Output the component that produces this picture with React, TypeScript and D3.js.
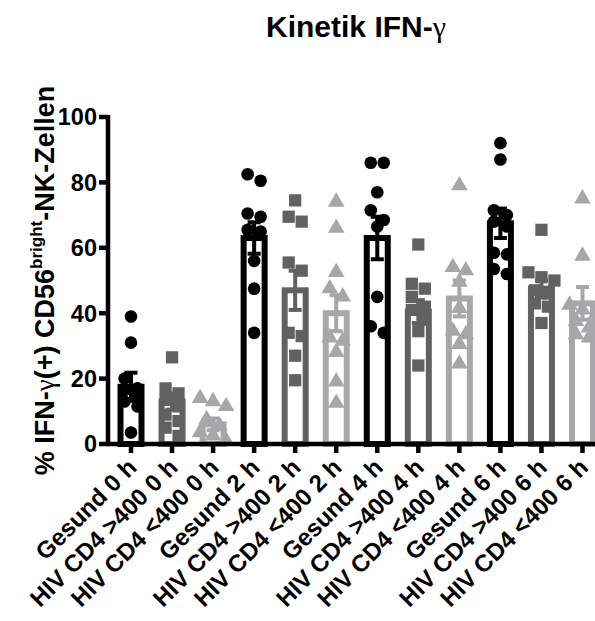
import React from 'react';
import * as d3 from 'd3';

const width = 595;
const height = 621;

const categories = [
  'Gesund 0 h', 'HIV CD4 >400 0 h', 'HIV CD4 <400 0 h',
  'Gesund 2 h', 'HIV CD4 >400 2 h', 'HIV CD4 <400 2 h',
  'Gesund 4 h', 'HIV CD4 >400 4 h', 'HIV CD4 <400 4 h',
  'Gesund 6 h', 'HIV CD4 >400 6 h', 'HIV CD4 <400 6 h',
];
// 0 = Gesund, 1 = HIV CD4 >400, 2 = HIV CD4 <400
const groupOf = [0, 1, 2, 0, 1, 2, 0, 1, 2, 0, 1, 2];

const means = [17.5, 13, 6, 63, 47, 40, 63, 40.5, 44.5, 67.5, 47.5, 43];
const sems = [4.3, 2.5, 1.8, 4.8, 6, 5.5, 6.5, 3.5, 5.5, 4.5, 2.6, 5];

const points = [
  [39, 31, 20, 17, 16.5, 15, 13, 11.5, 3.5],
  [26.5, 17, 15.5, 13.5, 11.5, 9, 7, 5, 2.5],
  [14.5, 13.5, 12, 8, 6, 4, 3, 1.5],
  [82.5, 80.5, 70.5, 69.5, 65.5, 65, 56, 47.5, 34],
  [74.5, 69.5, 68, 55.5, 53, 34, 33, 27, 19.5],
  [74.5, 66.5, 53, 48, 45.5, 33, 32, 28.5, 19.5, 13],
  [86, 86, 77, 71.5, 68.5, 66.5, 45, 36, 34],
  [61, 49, 47.5, 45, 42, 41, 38, 34.5, 24],
  [79.5, 54.5, 53.5, 50, 42, 35, 34, 31, 25],
  [92, 87, 71.5, 70, 68, 66.5, 58.5, 58, 53.5, 52],
  [65.5, 52.5, 51, 50, 47, 46, 43, 42, 37],
  [75.5, 58, 43, 41.5, 40, 38, 36, 34, 33],
];

const yTicks = [0, 20, 40, 60, 80, 100];

const colors = ['#000000', '#616161', '#a7a7a9'];
const shapes = [d3.symbolCircle, d3.symbolSquare, d3.symbolTriangle];
const sizes = [125, 150, 120];

const font = '"Liberation Sans", Arial, Helvetica, sans-serif';

// rows of near-equal values get spread side by side, like Prism does
const spread = (vals: number[], y: (v: number) => number) => {
  const sorted = [...vals].sort((a, b) => b - a);
  const rows: number[][] = [];
  sorted.forEach(v => {
    const row = rows[rows.length - 1];
    if (row && Math.abs(y(row[0]) - y(v)) < 11) row.push(v);
    else rows.push([v]);
  });
  const out: { v: number; dx: number }[] = [];
  rows.forEach(row => {
    row.forEach((v, j) => out.push({ v, dx: (j - (row.length - 1) / 2) * 13 }));
  });
  return out;
};

const App = () => {
  const axisX = 108;
  const y = d3.scaleLinear().domain([0, 100]).range([444, 117]);
  const x = d3.scalePoint<string>().domain(categories).range([131, 582.5]);
  const barW = 21;

  return (
    <svg width={width} height={height} style={{ position: 'absolute', left: 0, top: 0 }}
      fontFamily={font} fontWeight="bold">
      <rect width={width} height={height} fill="#fff" />
      <text x={356} y={37} textAnchor="middle" fontSize={30}>
        Kinetik IFN-<tspan fontFamily='"Liberation Serif", serif' fontWeight="normal">γ</tspan>
      </text>

      {categories.map((c, i) => {
        const cx = x(c)!;
        const g = groupOf[i];
        const col = colors[g];
        const sym = d3.symbol().type(shapes[g]).size(sizes[g])()!;
        return (
          <g key={c}>
            <rect x={cx - barW / 2} y={y(means[i])} width={barW} height={y(0) - y(means[i])}
              fill="#fff" stroke={col} strokeWidth={6} />
            {spread(points[i], y).map((p, k) => (
              <path key={k} d={sym} fill={col}
                transform={`translate(${cx + p.dx},${y(p.v) + (g === 2 ? 1.5 : 0)})`} />
            ))}
            <g stroke={col} strokeWidth={4}>
              <line x1={cx} x2={cx} y1={y(means[i] - sems[i])} y2={y(means[i] + sems[i])} />
              <line x1={cx - 6.5} x2={cx + 6.5} y1={y(means[i] + sems[i])} y2={y(means[i] + sems[i])} />
              <line x1={cx - 6.5} x2={cx + 6.5} y1={y(means[i] - sems[i])} y2={y(means[i] - sems[i])} />
            </g>
          </g>
        );
      })}

      {/* axes */}
      <g stroke="#000" strokeWidth={4.5}>
        <line x1={axisX} x2={axisX} y1={y(100) - 2} y2={y(0) + 2} />
        <line x1={axisX - 2} x2={width} y1={y(0)} y2={y(0)} />
        {yTicks.map(t => (
          <line key={t} x1={axisX - 9} x2={axisX} y1={y(t)} y2={y(t)} />
        ))}
        {categories.map(c => (
          <line key={c} x1={x(c)} x2={x(c)} y1={y(0)} y2={y(0) + 9} />
        ))}
      </g>
      {yTicks.map(t => (
        <text key={t} x={axisX - 11} y={y(t)} dy="0.36em" textAnchor="end" fontSize={23.5}>{t}</text>
      ))}
      {categories.map(c => (
        <text key={c} textAnchor="end" fontSize={24}
          transform={`translate(${x(c)! + 7},${y(0) + 25}) rotate(-45)`}>{c}</text>
      ))}

      <text transform={`translate(54,${(y(0) + y(100)) / 2}) rotate(-90)`} textAnchor="middle" fontSize={27}>
        % IFN-<tspan fontFamily='"Liberation Serif", serif' fontWeight="normal">γ</tspan>(+) CD56
        <tspan fontSize={17} dy={-12}>bright</tspan>
        <tspan dy={12}>-NK-Zellen</tspan>
      </text>
    </svg>
  );
};

export default App;
